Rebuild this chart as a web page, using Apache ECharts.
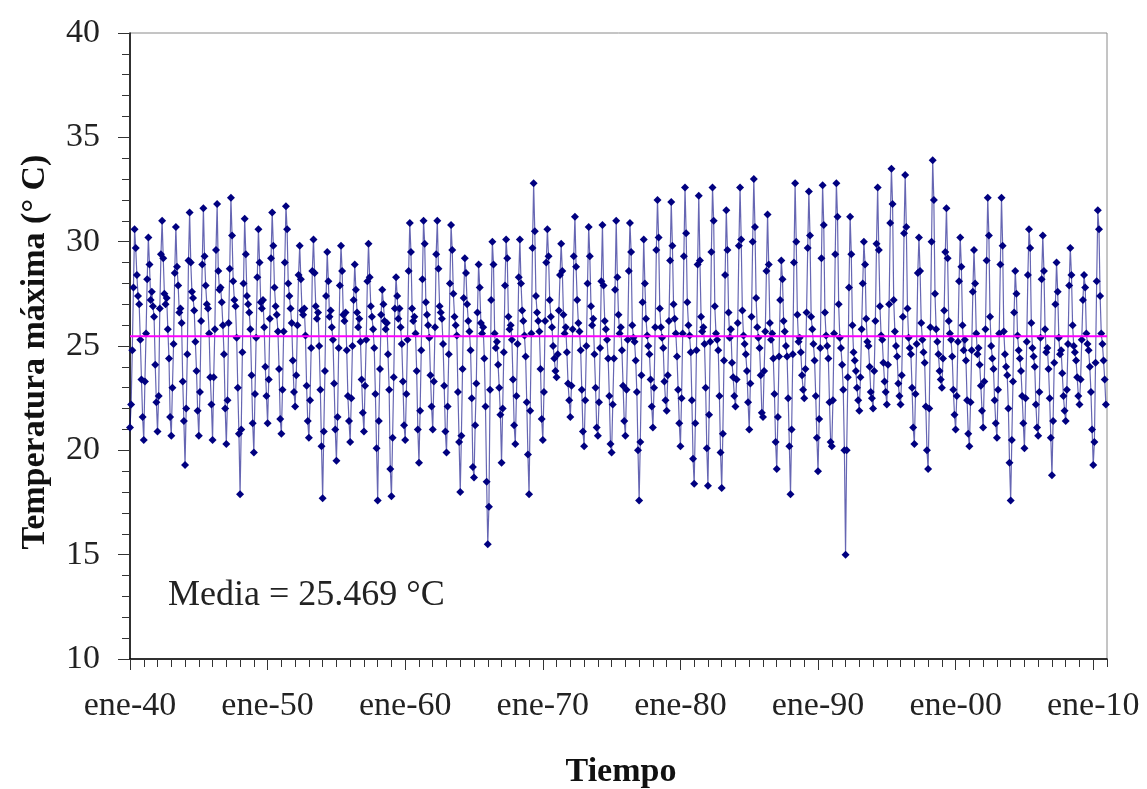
<!DOCTYPE html>
<html>
<head>
<meta charset="utf-8">
<script src="https://cdn.jsdelivr.net/npm/echarts@6/dist/echarts.min.js"></script>
<style>
    html, body { margin: 0; padding: 0; background: #fff; }
    #chart { width: 1147px; height: 789px; }
</style>
</head>
<body>
<div id="chart"></div>
<script>
    // monthly maximum temperature (°C), Jan 1940 .. Dec 2010, one array per decade
    const t1940s = [
        21.1, 22.2, 24.8, 27.8, 30.6, 29.7, 28.4, 27.4, 27.0, 25.3, 23.4, 21.6,
        20.5, 23.3, 25.6, 28.2, 30.2, 28.9, 27.2, 27.6, 26.9, 26.4, 24.1, 22.3,
        20.9, 22.6, 26.8, 29.4, 31.0, 29.2, 27.5, 27.0, 27.3, 25.8, 24.4, 21.6,
        20.7, 23.0, 25.1, 28.5, 30.7, 28.8, 27.9, 26.6, 26.8, 26.1, 23.3, 21.4,
        19.3, 22.0, 24.6, 29.1, 31.4, 29.0, 27.6, 27.3, 26.7, 25.2, 23.8, 21.9,
        20.7, 22.8, 26.2, 28.9, 31.6, 29.3, 27.9, 27.0, 26.8, 25.6, 23.5, 22.2,
        20.5, 23.5, 25.8, 29.6, 31.8, 28.6, 27.7, 27.8, 27.1, 26.0, 24.6, 22.0,
        20.3, 22.4, 26.1, 28.7, 32.1, 30.3, 28.1, 27.2, 26.9, 25.4, 23.0, 20.8,
        17.9, 21.0, 24.7, 28.0, 31.1, 29.4, 27.4, 27.0, 26.6, 25.8, 23.6, 21.3,
        19.9, 22.7, 25.4, 28.3, 30.6, 29.0, 27.1, 26.8, 27.2, 25.9, 24.0, 22.6
    ]
    const t1950s = [
        21.3, 23.4, 26.3, 29.2, 31.4, 29.8, 27.8, 26.9, 26.5, 25.7, 23.9, 21.5,
        20.8, 22.9, 25.7, 29.0, 31.7, 30.6, 28.0, 27.4, 26.8, 26.1, 24.3, 22.8,
        22.1, 23.6, 26.0, 28.4, 29.8, 28.2, 26.7, 26.5, 26.8, 25.5, 23.1, 21.4,
        20.6, 22.4, 24.9, 28.6, 30.1, 28.5, 26.9, 26.3, 26.6, 25.0, 22.9, 20.2,
        17.7, 20.9, 23.8, 27.4, 29.5, 28.1, 26.4, 26.7, 25.9, 25.3, 23.2, 21.0,
        19.5, 21.6, 24.9, 27.9, 29.8, 28.6, 26.5, 26.2, 26.6, 24.8, 22.6, 21.4,
        20.4, 22.5, 25.0, 27.2, 28.9, 27.7, 26.6, 25.9, 26.3, 25.2, 23.4, 21.8,
        20.9, 23.1, 25.3, 28.1, 29.9, 28.3, 26.9, 26.4, 25.8, 24.9, 22.7, 20.1,
        17.6, 21.4, 23.9, 26.5, 27.7, 27.0, 26.2, 25.8, 26.1, 24.6, 22.9, 19.1,
        17.8, 20.6, 23.5, 26.8, 28.3, 27.4, 26.3, 26.8, 25.9, 25.1, 23.3, 21.2
    ]
    const t1960s = [
        20.5, 22.7, 25.3, 28.6, 30.9, 29.5, 26.8, 26.2, 26.4, 25.6, 23.8, 21.0,
        19.4, 21.9, 24.8, 28.2, 31.0, 29.9, 27.1, 26.5, 26.0, 25.4, 23.6, 22.1,
        21.0, 23.3, 25.9, 29.4, 31.0, 28.7, 26.9, 26.6, 26.3, 25.1, 23.1, 20.9,
        19.9, 22.1, 24.6, 28.0, 30.8, 29.6, 27.5, 26.4, 26.0, 25.5, 22.8, 20.4,
        18.0, 20.7, 23.9, 27.3, 29.2, 28.5, 27.0, 26.2, 25.7, 24.8, 22.5, 19.2,
        18.7, 21.2, 23.2, 26.6, 28.9, 27.8, 26.1, 25.6, 25.9, 24.4, 22.1, 18.5,
        15.5, 17.3, 22.9, 27.2, 30.0, 28.9, 25.6, 24.9, 25.2, 24.1, 23.0, 21.7,
        19.4, 22.0, 24.7, 27.9, 30.1, 29.2, 26.4, 25.8, 26.0, 25.3, 23.4, 21.2,
        20.3, 22.6, 25.1, 28.3, 30.1, 28.0, 26.7, 26.2, 25.5, 24.5, 22.3, 19.8,
        17.9, 21.9, 25.6, 29.7, 32.8, 30.5, 27.4, 26.6, 26.2, 25.7, 23.9, 21.5
    ]
    const t1970s = [
        20.5, 22.8, 26.2, 29.0, 30.6, 29.3, 27.2, 26.4, 25.9, 25.0, 24.4, 23.8,
        23.5, 24.6, 26.7, 28.4, 29.9, 28.6, 26.5, 25.6, 25.9, 24.7, 23.2, 22.4,
        21.6, 23.1, 25.8, 29.3, 31.2, 28.8, 27.2, 26.1, 25.7, 24.8, 22.9, 20.9,
        20.2, 22.4, 25.0, 28.0, 30.7, 29.3, 26.9, 26.0, 26.3, 24.6, 23.0, 21.1,
        20.7, 22.3, 24.9, 28.1, 30.8, 27.9, 26.2, 25.8, 25.3, 24.4, 22.6, 20.3,
        19.9, 22.2, 24.4, 27.7, 31.0, 28.3, 26.5, 25.6, 25.9, 24.8, 23.1, 21.4,
        20.7, 22.9, 25.3, 28.6, 30.9, 29.5, 26.0, 25.4, 25.2, 24.3, 22.8, 20.0,
        17.6, 20.4, 23.6, 27.1, 30.1, 28.0, 26.3, 25.5, 25.0, 24.6, 23.4, 22.1,
        21.1, 23.0, 25.9, 29.6, 32.0, 30.2, 26.8, 25.9, 25.4, 24.9, 23.3, 22.4,
        21.9, 23.6, 26.2, 29.1, 31.9, 29.8, 27.0, 26.3, 25.6, 24.5, 22.9, 21.3
    ]
    const t1980s = [
        20.2, 22.5, 25.6, 29.3, 32.6, 30.4, 27.1, 26.0, 25.5, 24.7, 22.4, 19.6,
        18.4, 21.3, 24.8, 28.9, 32.2, 29.1, 26.4, 25.7, 25.9, 25.1, 23.0, 20.1,
        18.3, 21.7, 25.2, 29.5, 32.6, 31.0, 26.9, 25.6, 25.3, 24.8, 22.6, 19.9,
        18.2, 20.8, 24.3, 28.4, 31.5, 29.6, 26.6, 25.4, 25.8, 24.2, 23.5, 22.6,
        22.1, 23.4, 26.1, 29.8, 32.6, 30.1, 26.7, 25.5, 25.1, 24.6, 23.8, 22.3,
        21.0, 23.2, 26.4, 30.0, 33.0, 30.7, 27.3, 25.9, 25.4, 24.9, 23.6, 21.8,
        21.6, 23.8, 25.7, 28.6, 31.3, 28.9, 26.1, 25.3, 25.6, 24.4, 22.7, 20.4,
        19.1, 21.6, 24.5, 27.2, 29.1, 28.2, 26.2, 25.7, 25.0, 24.5, 22.5, 20.2,
        17.9, 21.0, 24.6, 29.0, 32.8, 30.0, 26.5, 25.2, 25.4, 24.7, 23.6, 22.9,
        22.5, 23.9, 26.6, 29.7, 32.4, 30.3, 26.4, 25.8, 25.1, 24.3, 22.6, 20.6
    ]
    const t1990s = [
        19.0, 21.5, 24.9, 29.2, 32.7, 30.8, 26.6, 25.5, 25.0, 24.4, 22.3, 20.4,
        20.2, 22.4, 25.6, 29.4, 32.8, 31.2, 27.0, 25.4, 24.9, 24.1, 22.9, 20.0,
        15.0, 20.0, 23.5, 27.8, 31.2, 29.4, 26.0, 24.7, 24.3, 23.8, 23.0, 22.4,
        21.9, 23.5, 25.8, 28.0, 30.0, 28.9, 26.3, 25.2, 25.0, 24.0, 22.8, 22.5,
        22.0, 23.8, 26.2, 29.9, 32.6, 29.6, 26.9, 25.5, 25.3, 24.2, 23.3, 22.8,
        22.2, 24.1, 27.0, 30.9, 33.5, 31.8, 27.2, 25.7, 25.0, 24.5, 23.2, 22.6,
        22.2, 23.6, 26.4, 30.4, 33.2, 30.7, 26.8, 25.4, 24.9, 24.6, 23.0, 21.1,
        20.3, 22.7, 25.1, 28.5, 30.2, 28.6, 26.1, 25.3, 24.7, 24.2, 22.1, 20.0,
        19.1, 22.0, 25.9, 30.0, 33.9, 32.0, 27.5, 25.8, 25.2, 24.6, 23.8, 23.4,
        23.0, 24.4, 26.7, 29.5, 31.6, 29.2, 26.2, 25.6, 25.3, 24.5, 22.9, 21.7
    ]
    const t2000s = [
        21.0, 22.6, 25.2, 28.1, 30.2, 28.8, 26.0, 24.8, 25.3, 24.3, 22.4, 20.8,
        20.2, 22.3, 24.8, 27.6, 29.6, 28.0, 25.6, 24.6, 24.9, 24.1, 23.1, 21.9,
        21.1, 23.3, 25.8, 29.1, 32.1, 30.3, 26.4, 25.0, 24.4, 23.9, 22.4, 21.3,
        20.6, 22.9, 25.6, 28.9, 32.1, 29.8, 25.7, 24.6, 24.0, 23.6, 22.0, 19.4,
        17.6, 20.5, 23.3, 26.6, 28.6, 27.5, 25.5, 24.8, 24.4, 23.8, 22.6, 21.3,
        20.1, 22.5, 25.2, 28.4, 30.6, 29.7, 26.1, 24.9, 24.5, 24.0, 22.2, 21.1,
        20.7, 22.8, 25.4, 28.2, 30.3, 28.6, 25.8, 24.7, 24.9, 23.9, 22.5, 20.6,
        18.8, 21.4, 24.2, 27.0, 29.0, 27.6, 25.4, 24.6, 24.8, 23.7, 22.6, 21.9,
        21.4, 22.9, 25.1, 27.9, 29.7, 28.4, 26.0, 25.0, 24.7, 24.3, 23.5, 22.6,
        22.2, 23.4, 25.3, 27.2, 28.4, 27.8, 25.6, 25.1, 24.8, 24.0, 22.8, 21.0
    ]
    const t2010 = [19.3, 20.4, 24.2, 28.1, 31.5, 30.6, 27.4, 25.6, 25.1, 24.3, 23.4, 22.2]

    const media = 25.469
    const decadeLabels = ['ene-40', 'ene-50', 'ene-60', 'ene-70', 'ene-80', 'ene-90', 'ene-00', 'ene-10']
    const yTicks = [10, 15, 20, 25, 30, 35, 40]

    const tmax = [].concat(t1940s, t1950s, t1960s, t1970s, t1980s, t1990s, t2000s, t2010)
    const nMonths = tmax.length // 852, Jan 1940 .. Dec 2010
    const seriesData = tmax.map((v, i) => [i, v])
    const decadeTicks = decadeLabels.map((s, i) => i * 120)

    const serif = '"Liberation Serif", "Times New Roman", serif'

    const chart = echarts.init(document.getElementById('chart'), null, {renderer: 'canvas'})
    chart.setOption({
        animation: false,
        grid: {
            left: 130,
            right: 40,
            top: 33,
            bottom: 130,
            show: true,
            borderColor: '#8a8a8a',
            borderWidth: 1,
        },
        xAxis: [
            {   // yearly ticks
                type: 'value',
                min: 0,
                max: nMonths,
                interval: 12,
                axisLine: {lineStyle: {color: '#000', width: 1.5}},
                axisTick: {length: 8, lineStyle: {color: '#333', width: 1}},
                axisLabel: {show: false},
                splitLine: {show: false},
            },
            {   // decade ticks and labels
                type: 'value',
                position: 'bottom',
                min: 0,
                max: nMonths,
                interval: 120,
                axisLine: {show: false},
                axisTick: {length: 11, customValues: decadeTicks, lineStyle: {color: '#333', width: 1}},
                axisLabel: {
                    customValues: decadeTicks,
                    margin: 30,
                    fontSize: 34,
                    fontFamily: serif,
                    color: '#222',
                    formatter (value) {
                        const k = Math.round(value / 120)
                        return value % 120 === 0 && decadeLabels[k] ? decadeLabels[k] : ''
                    }
                },
                splitLine: {show: false},
            }
        ],
        yAxis: {
            type: 'value',
            min: yTicks[0],
            max: yTicks[yTicks.length - 1],
            interval: 5,
            axisLine: {show: true, lineStyle: {color: '#000', width: 1.5}},
            axisTick: {show: true, length: 12, lineStyle: {color: '#333'}},
            minorTick: {show: true, splitNumber: 5, length: 8, lineStyle: {color: '#333'}},
            axisLabel: {
                margin: 30,
                fontSize: 34,
                fontFamily: serif,
                color: '#222',
            },
            splitLine: {show: false},
        },
        graphic: [
            {
                type: 'text',
                x: 35,
                y: 352,
                rotation: Math.PI / 2,
                style: {
                    text: 'Temperatura máxima (° C)',
                    fontSize: 34,
                    fontWeight: 'bold',
                    fontFamily: serif,
                    fill: '#111',
                    align: 'center',
                    verticalAlign: 'middle',
                }
            },
            {
                type: 'text',
                x: 621,
                y: 772,
                style: {
                    text: 'Tiempo',
                    fontSize: 34,
                    fontWeight: 'bold',
                    fontFamily: serif,
                    fill: '#111',
                    align: 'center',
                    verticalAlign: 'middle',
                }
            },
            {
                type: 'text',
                x: 168,
                y: 596,
                style: {
                    text: 'Media = ' + media + ' °C',
                    fontSize: 36,
                    fontFamily: serif,
                    fill: '#222',
                    align: 'left',
                    verticalAlign: 'middle',
                }
            }
        ],
        series: [
            {
                name: 'Tmax',
                type: 'line',
                xAxisIndex: 0,
                data: seriesData,
                symbol: 'diamond',
                symbolSize: 8,
                showAllSymbol: true,
                itemStyle: {color: '#000080'},
                lineStyle: {color: 'rgba(0, 0, 128, 0.6)', width: 1.2},
                z: 2,
            },
            {
                name: 'Media',
                type: 'line',
                xAxisIndex: 0,
                data: [[0, media], [nMonths, media]],
                symbol: 'none',
                lineStyle: {color: '#ff00ff', width: 2},
                z: 3,
            }
        ]
    })
</script>
</body>
</html>
